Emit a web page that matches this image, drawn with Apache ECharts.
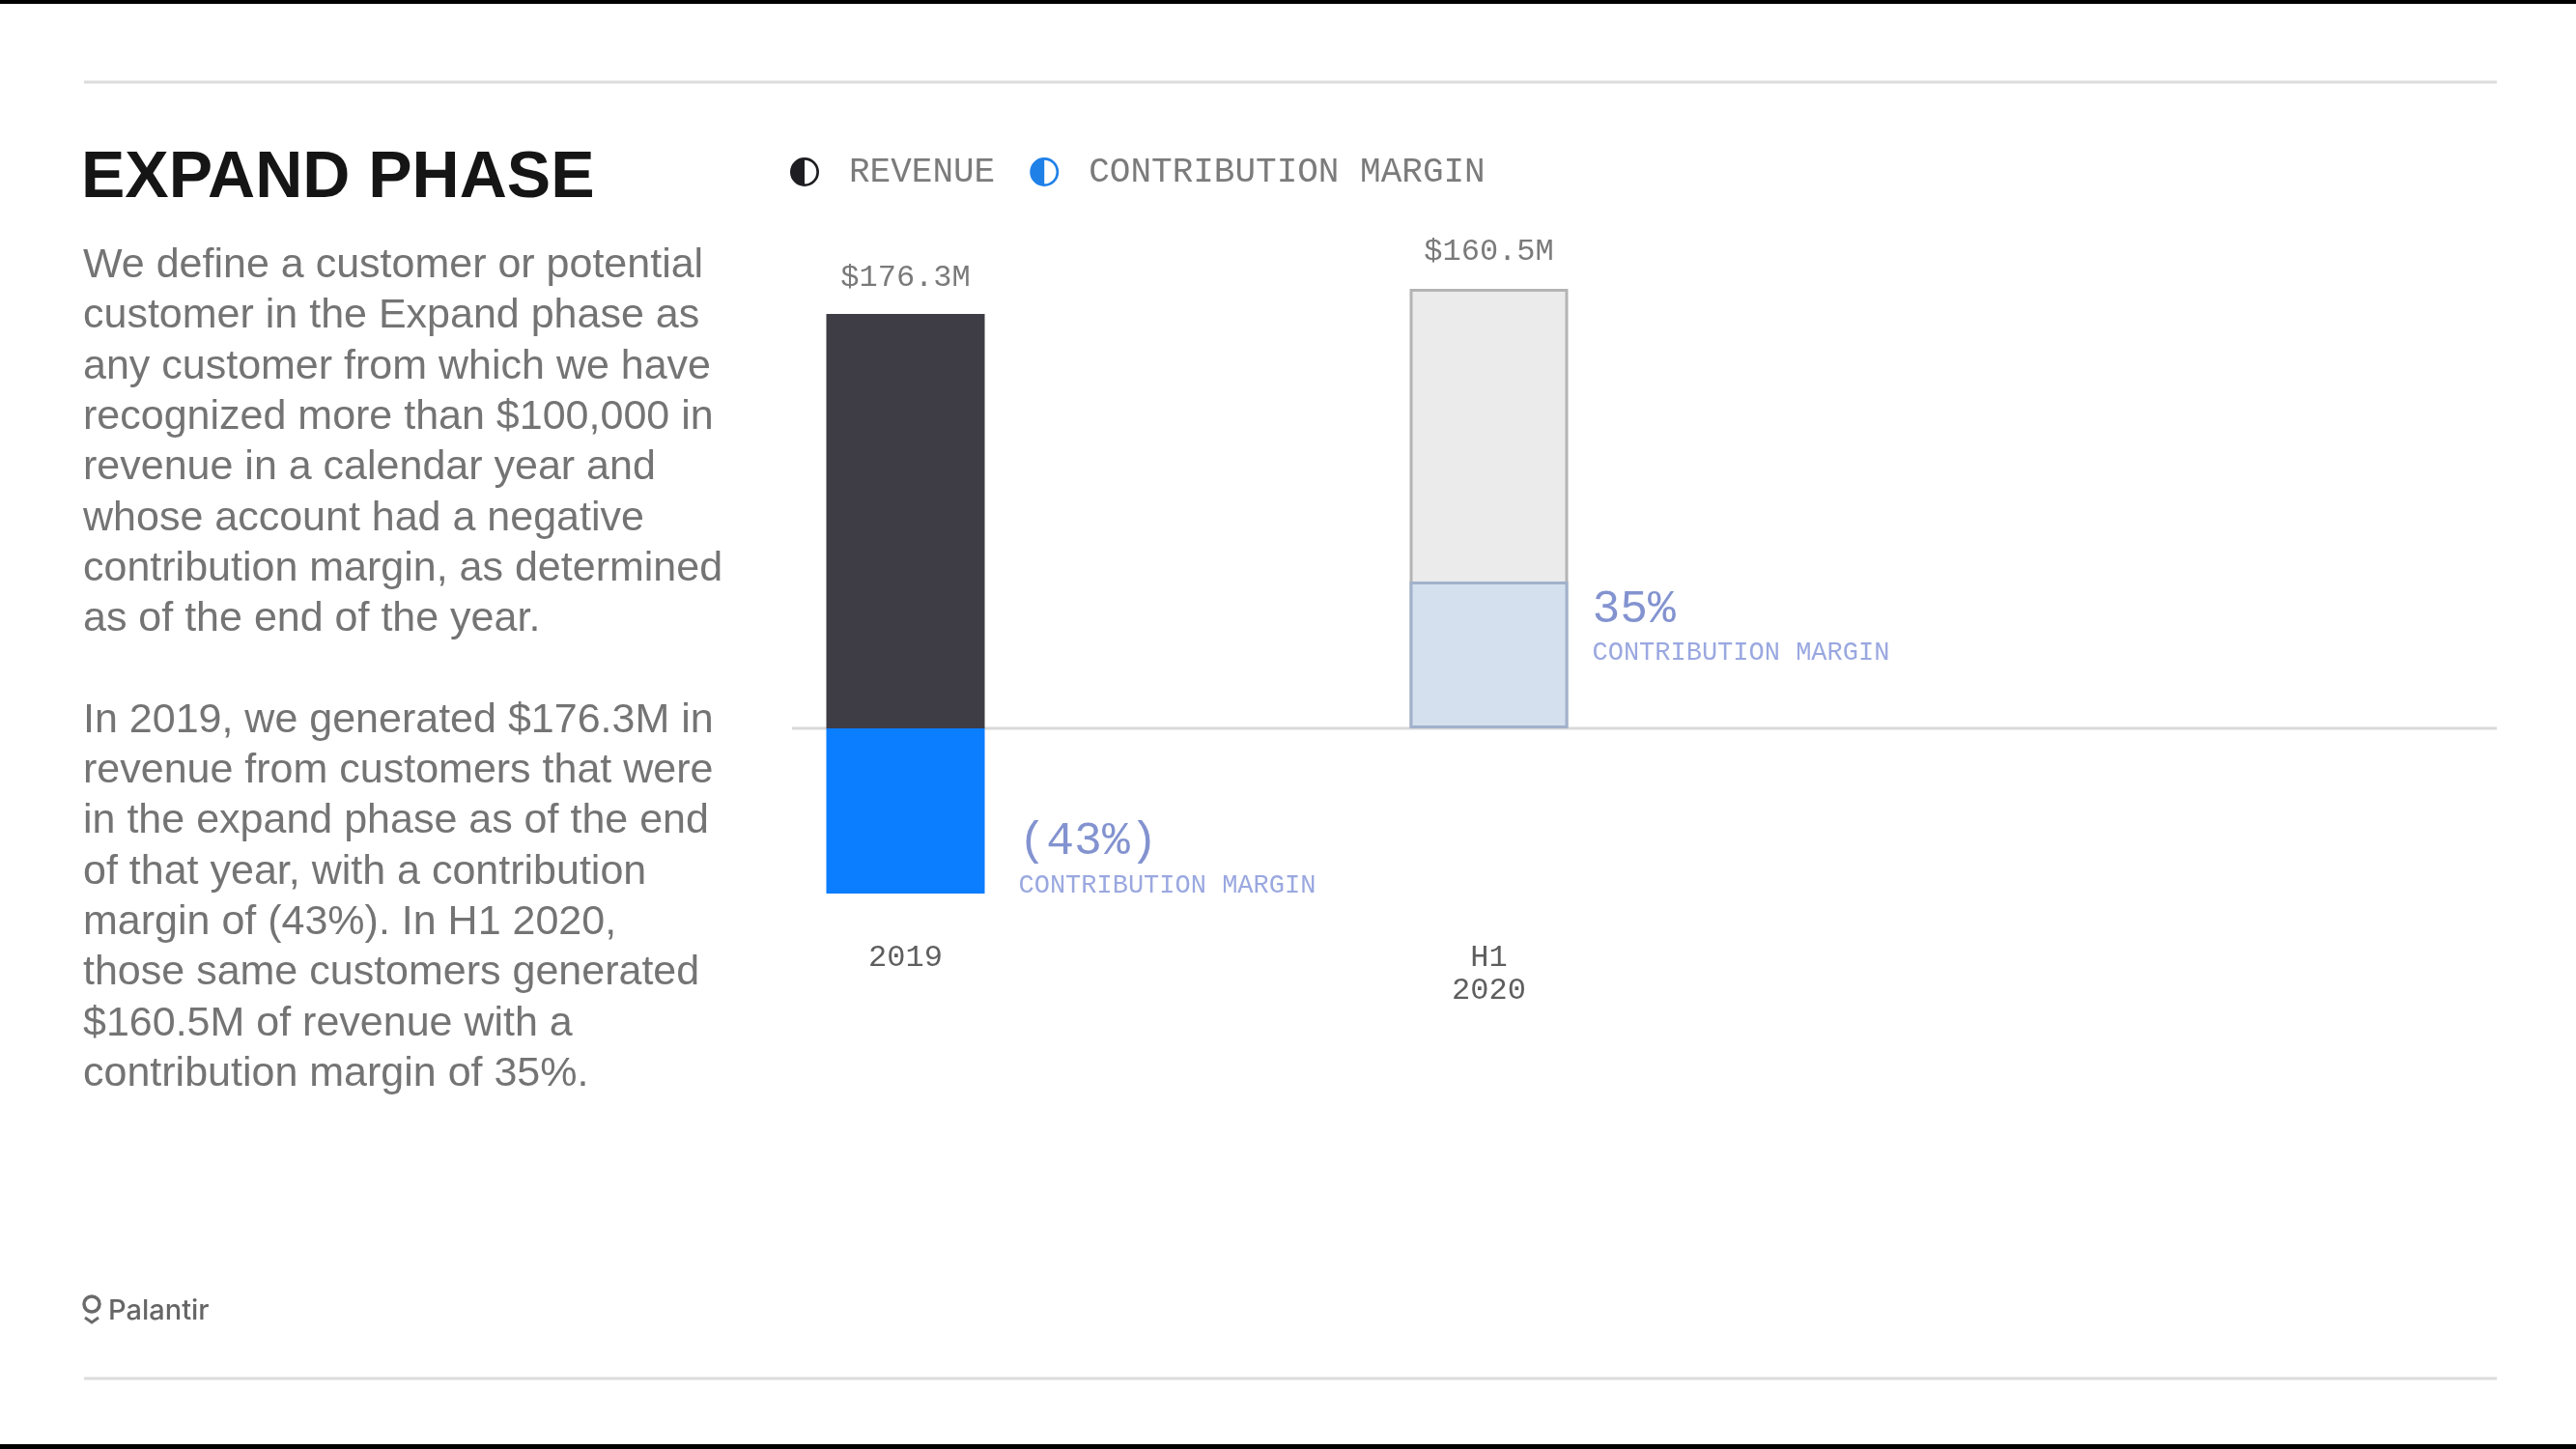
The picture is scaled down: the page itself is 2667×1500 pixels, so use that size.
<!DOCTYPE html>
<html>
<head>
<meta charset="utf-8">
<script src="https://cdn.jsdelivr.net/npm/echarts@6/dist/echarts.min.js"></script>
<style>
  html, body { margin: 0; padding: 0; background: #ffffff; }
  #chart { width: 2667px; height: 1500px; }
</style>
</head>
<body>
<div id="chart"></div>
<script>
// ---- data ----
const categories = ['2019', 'H1\n2020'];
const seriesNames = ['REVENUE', 'CONTRIBUTION MARGIN'];
const revenueLabels = ['$176.3M', '$160.5M'];
// bar lengths as drawn in the reference ($M on the 2019 scale)
const revenueBar = [176.3, 187.0];
const marginBar = [-70.3, 62.5];
const marginLabels = ['(43%)', '35%'];
const marginCaption = 'CONTRIBUTION MARGIN';
const titleText = 'EXPAND PHASE';
const paragraph1 = [
  'We define a customer or potential',
  'customer in the Expand phase as',
  'any customer from which we have',
  'recognized more than $100,000 in',
  'revenue in a calendar year and',
  'whose account had a negative',
  'contribution margin, as determined',
  'as of the end of the year.'
];
const paragraph2 = [
  'In 2019, we generated $176.3M in',
  'revenue from customers that were',
  'in the expand phase as of the end',
  'of that year, with a contribution',
  'margin of (43%). In H1 2020,',
  'those same customers generated',
  '$160.5M of revenue with a',
  'contribution margin of 35%.'
];
const logoText = 'Palantir';

// ---- styles ----
const MONO = '"Liberation Mono", "DejaVu Sans Mono", monospace';
const SANS = '"Liberation Sans", Arial, sans-serif';
const halfCircle = 'path://M50,0 A50,50 0 1,1 50,100 A50,50 0 1,1 50,0 Z ' +
  'M50,9 A41,41 0 1,0 50,91 A41,41 0 1,0 50,9 Z ' +
  'M50,9 A41,41 0 0,0 50,91 Z';

const chart = echarts.init(document.getElementById('chart'), null, { renderer: 'canvas' });

const revenueStyles = [
  { color: '#3e3c45' },
  { color: '#ebebeb', borderColor: '#b4b4b4', borderWidth: 3 }
];
const marginStyles = [
  { color: '#0b7dff' },
  { color: '#d5e0ef', borderColor: '#a2b1cb', borderWidth: 3 }
];
const marginLabelPlace = [
  { distance: 35, offset: [0, 52] },
  { distance: 25, offset: [0, -27] }
];

const option = {
  backgroundColor: '#ffffff',
  animation: false,
  legend: {
    left: 818,
    top: 160,
    padding: 0,
    itemWidth: 30,
    itemHeight: 31,
    itemGap: 36,
    selectedMode: false,
    textStyle: { fontFamily: MONO, fontSize: 36, color: '#7b7b7b', padding: [0, 0, 0, 26] },
    data: [
      { name: seriesNames[0], icon: halfCircle, itemStyle: { color: '#1e1e22' } },
      { name: seriesNames[1], icon: halfCircle, itemStyle: { color: '#1f80e8' } }
    ]
  },
  grid: {
    left: 635.5,
    right: 823.5,
    top: 267.4,
    bottom: 551.4,
    containLabel: false,
    outerBoundsMode: 'none'
  },
  xAxis: {
    type: 'category',
    data: categories,
    axisLine: { show: false },
    axisTick: { show: false },
    splitLine: { show: false },
    axisLabel: {
      margin: 26,
      fontFamily: MONO,
      fontSize: 32,
      lineHeight: 34,
      color: '#5e5e5e'
    }
  },
  yAxis: {
    type: 'value',
    min: -80,
    max: 200,
    show: false
  },
  series: [
    {
      name: seriesNames[0],
      type: 'bar',
      barWidth: 164,
      barGap: '-100%',
      z: 2,
      data: revenueBar.map((v, i) => ({ value: v, itemStyle: revenueStyles[i] })),
      label: {
        show: true,
        position: 'top',
        distance: 22,
        fontFamily: MONO,
        fontSize: 32,
        color: '#7a7a7a',
        formatter: p => revenueLabels[p.dataIndex]
      }
    },
    {
      name: seriesNames[1],
      type: 'bar',
      barWidth: 164,
      barGap: '-100%',
      z: 3,
      data: marginBar.map((v, i) => ({
        value: v,
        itemStyle: marginStyles[i],
        label: marginLabelPlace[i]
      })),
      label: {
        show: true,
        position: 'right',
        formatter: p => '{pct|' + marginLabels[p.dataIndex] + '}\n{cap|' + marginCaption + '}',
        rich: {
          pct: { fontFamily: MONO, fontSize: 48, lineHeight: 50, color: '#8393d0' },
          cap: { fontFamily: MONO, fontSize: 27, lineHeight: 40, color: '#9aa8e0' }
        }
      }
    }
  ]
};

chart.setOption(option);

const y0 = chart.convertToPixel({ yAxisIndex: 0 }, 0);

const graphics = [
  // frame edges
  { type: 'rect', shape: { x: 0, y: 0, width: 2667, height: 4 }, style: { fill: '#000' }, z: 0 },
  { type: 'rect', shape: { x: 0, y: 1495, width: 2667, height: 5 }, style: { fill: '#000' }, z: 0 },
  // rules
  { type: 'line', shape: { x1: 87, y1: 85, x2: 2585, y2: 85 }, style: { stroke: '#dcdcdc', lineWidth: 3 }, z: 0 },
  { type: 'line', shape: { x1: 87, y1: 1427, x2: 2585, y2: 1427 }, style: { stroke: '#dcdcdc', lineWidth: 3 }, z: 0 },
  // zero baseline
  { type: 'line', shape: { x1: 820, y1: y0, x2: 2585, y2: y0 }, style: { stroke: '#d9d9d9', lineWidth: 3 }, z: 1 },
  // title
  { type: 'text', x: 84, y: 185, style: { text: titleText, font: 'bold 68px ' + SANS, fill: '#151515', textVerticalAlign: 'middle' }, z: 0 },
  // paragraphs
  { type: 'text', x: 86, y: 249, style: { text: paragraph1.join('\n') + '\n\n' + paragraph2.join('\n'), font: '43px ' + SANS, lineHeight: 52.3, fill: '#747474', textVerticalAlign: 'top' }, z: 0 },
  // logo
  { type: 'circle', shape: { cx: 95, cy: 1350, r: 8 }, style: { fill: 'none', stroke: '#6a6a6a', lineWidth: 3.5 }, z: 0 },
  { type: 'polyline', shape: { points: [[88, 1364], [95, 1369], [102, 1364]] }, style: { fill: 'none', stroke: '#6a6a6a', lineWidth: 3 }, z: 0 },
  { type: 'text', x: 112, y: 1357, style: { text: logoText, font: '500 29px Inter, ' + SANS, fill: '#666', textVerticalAlign: 'middle' }, z: 0 }
];

chart.setOption({ graphic: graphics });
</script>
</body>
</html>
